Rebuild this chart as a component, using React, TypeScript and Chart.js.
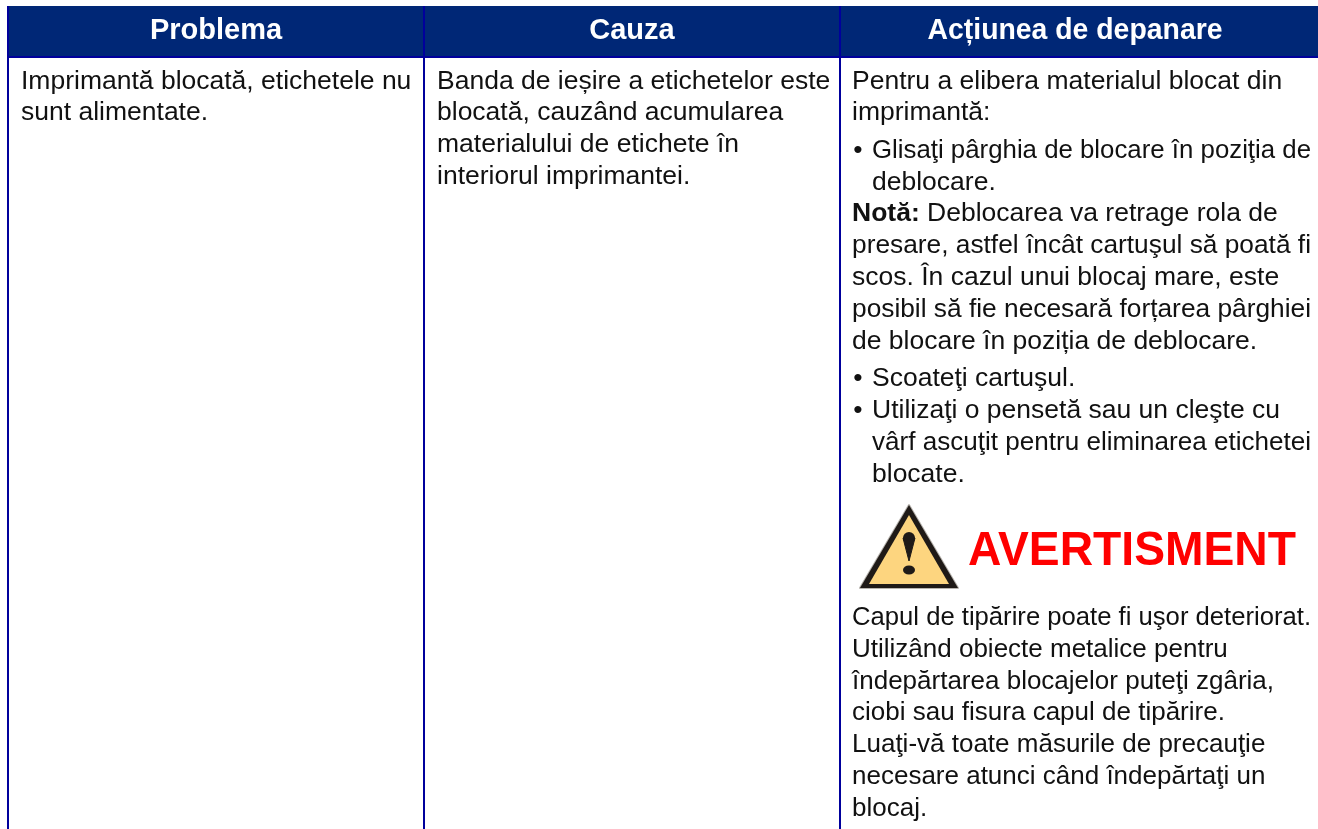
import React, { useEffect, useRef } from "react";
import { Chart, registerables } from "chart.js";

Chart.register(...registerables);

const columnHeaders = ["Problema", "Cauza", "Acțiunea de depanare"];
const problemLines = ["Imprimantă blocată, etichetele nu", "sunt alimentate."];
const causeLines = [
  "Banda de ieșire a etichetelor este",
  "blocată, cauzând acumularea",
  "materialului de etichete în",
  "interiorul imprimantei.",
];
const actionIntro = ["Pentru a elibera materialul blocat din", "imprimantă:"];
const actionFirstBullet = ["Glisaţi pârghia de blocare în poziţia de", "deblocare."];
const noteLabel = "Notă:";
const noteLines = [
  "Deblocarea va retrage rola de",
  "presare, astfel încât cartuşul să poată fi",
  "scos. În cazul unui blocaj mare, este",
  "posibil să fie necesară forțarea pârghiei",
  "de blocare în poziția de deblocare.",
];
const actionSecondBullet = ["Scoateţi cartuşul."];
const actionThirdBullet = [
  "Utilizaţi o pensetă sau un cleşte cu",
  "vârf ascuţit pentru eliminarea etichetei",
  "blocate.",
];
const warningWord = "AVERTISMENT";
const warningLines = [
  "Capul de tipărire poate fi uşor deteriorat.",
  "Utilizând obiecte metalice pentru",
  "îndepărtarea blocajelor puteţi zgâria,",
  "ciobi sau fisura capul de tipărire.",
  "Luaţi-vă toate măsurile de precauţie",
  "necesare atunci când îndepărtaţi un",
  "blocaj.",
];

const WIDTH = 1318;
const HEIGHT = 829;
const FONT = '"Liberation Sans", Arial, sans-serif';
const BODY = `26.5px ${FONT}`;
const WARN = `26px ${FONT}`;
const NAVY = "#002776";
const RULE = "#00009c";
const INK = "#111111";

const tablePlugin = {
  id: "table",
  afterDraw(chart: any) {
    const { ctx, scales } = chart;
    const px = (v: number) => scales.x.getPixelForValue(v);
    const py = (v: number) => scales.y.getPixelForValue(v);
    const rect = (x0: number, y0: number, x1: number, y1: number, c: string) => {
      ctx.fillStyle = c;
      ctx.fillRect(px(x0), py(y0), px(x1) - px(x0), py(y1) - py(y0));
    };
    const text = (s: string, x: number, y: number, font = BODY, c = INK, align = "left", fit?: number) => {
      ctx.font = font;
      ctx.fillStyle = c;
      ctx.textAlign = align;
      ctx.textBaseline = "alphabetic";
      if (fit) ctx.fillText(s, px(x), py(y), fit);
      else ctx.fillText(s, px(x), py(y));
    };

    ctx.save();
    rect(7, 6, 1318, 58, NAVY);
    [[7, 9], [423, 425], [839, 841]].forEach(([a, b]) => rect(a, 6, b, 829, RULE));
    rect(7, 56, 1318, 58, RULE);

    const headFont = `bold 29px ${FONT}`;
    text(columnHeaders[0], 216, 39, headFont, "#ffffff", "center");
    text(columnHeaders[1], 632, 39, headFont, "#ffffff", "center");
    text(columnHeaders[2], 1075, 39, headFont, "#ffffff", "center", 295);

    [89, 120].forEach((y, i) => text(problemLines[i], 21, y));
    [89, 120, 152, 184].forEach((y, i) => text(causeLines[i], 437, y));

    const x = 852;
    const bullet = 858;
    const inner = 872;
    text(actionIntro[0], x, 89);
    text(actionIntro[1], x, 120);
    text("•", bullet, 158, BODY, INK, "center");
    text(actionFirstBullet[0], inner, 158, BODY, INK, "left", 439);
    text(actionFirstBullet[1], inner, 190);

    const boldBody = `bold 26.5px ${FONT}`;
    ctx.font = boldBody;
    const noteW = ctx.measureText(noteLabel).width;
    text(noteLabel, x, 221, boldBody);
    text(noteLines[0], x + noteW + 7.4, 221);
    text(noteLines[1], x, 253, BODY, INK, "left", 459);
    text(noteLines[2], x, 285);
    text(noteLines[3], x, 317, BODY, INK, "left", 459);
    text(noteLines[4], x, 349);

    text("•", bullet, 386, BODY, INK, "center");
    text(actionSecondBullet[0], inner, 386);
    text("•", bullet, 418, BODY, INK, "center");
    text(actionThirdBullet[0], inner, 418);
    text(actionThirdBullet[1], inner, 450, BODY, INK, "left", 439);
    text(actionThirdBullet[2], inner, 482);

    const path = (pts: number[][]) => {
      ctx.beginPath();
      pts.forEach(([a, b], i) => (i ? ctx.lineTo(px(a), py(b)) : ctx.moveTo(px(a), py(b))));
      ctx.closePath();
    };
    ctx.lineJoin = "round";
    path([[909, 505], [958, 588], [860, 588]]);
    ctx.fillStyle = "#1f1a17";
    ctx.strokeStyle = "#b8b4ae";
    ctx.lineWidth = 2;
    ctx.stroke();
    ctx.fill();
    path([[909, 515], [949, 584], [869, 584]]);
    ctx.fillStyle = "#fdd57f";
    ctx.fill();
    path([[903, 538], [915, 538], [909, 561]]);
    ctx.fillStyle = "#1f1a17";
    ctx.lineWidth = 1;
    ctx.strokeStyle = "#1f1a17";
    ctx.stroke();
    ctx.fill();
    ctx.beginPath();
    ctx.arc(px(909), py(538), 6, 0, Math.PI * 2);
    ctx.fill();
    ctx.beginPath();
    ctx.ellipse(px(909), py(570), 6, 4.5, 0, 0, Math.PI * 2);
    ctx.fill();

    text(warningWord, 968, 565, `bold 48.5px ${FONT}`, "#ff0000", "left", 328);
    [625, 657, 689, 720, 752, 784, 816].forEach((y, i) =>
      text(warningLines[i], x, y, WARN, INK, "left", i === 0 ? 459 : undefined)
    );
    ctx.restore();
  },
};

export default function App() {
  const ref = useRef<HTMLCanvasElement>(null);
  useEffect(() => {
    document.body.style.margin = "0";
    document.body.style.background = "#ffffff";
    const chart = new Chart(ref.current!, {
      type: "bar",
      data: { labels: [], datasets: [] },
      options: {
        animation: false,
        responsive: false,
        layout: { padding: 0 },
        plugins: { legend: { display: false }, tooltip: { enabled: false }, title: { display: false } },
        scales: {
          x: { type: "linear", display: false, min: 0, max: WIDTH, offset: false },
          y: { type: "linear", display: false, min: 0, max: HEIGHT, reverse: true },
        },
      },
      plugins: [tablePlugin],
    } as any);
    return () => chart.destroy();
  }, []);
  return <canvas ref={ref} width={WIDTH} height={HEIGHT} style={{ display: "block" }} />;
}
